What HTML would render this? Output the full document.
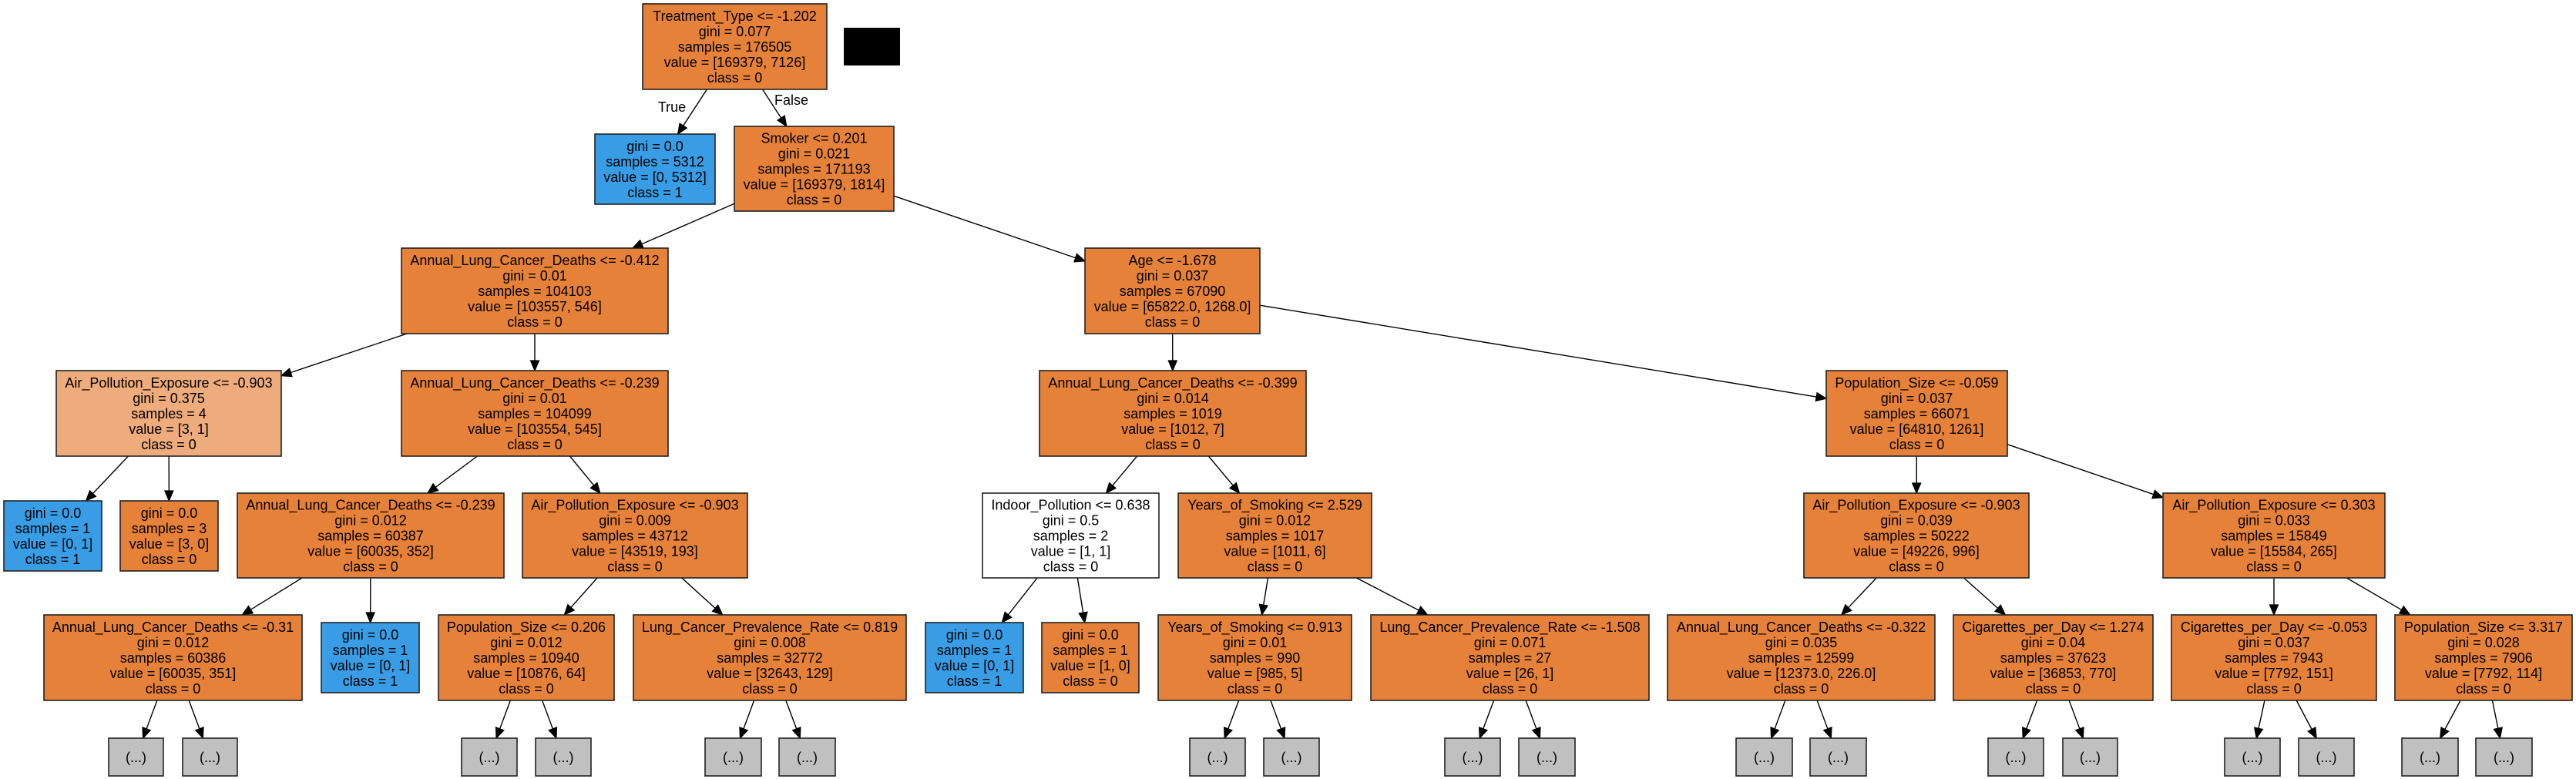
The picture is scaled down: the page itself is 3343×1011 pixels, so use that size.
<!DOCTYPE html>
<html><head><meta charset="utf-8">
<style>
html,body{margin:0;padding:0;background:#fff;}
svg{display:block;}
text{font-family:"Liberation Sans",Arial,sans-serif;font-size:18px;fill:#000;}
</style></head>
<body>
<svg id="s" width="3343" height="1011" viewBox="0 0 3343 1011" xmlns="http://www.w3.org/2000/svg">
<rect x="1095" y="36" width="73" height="49" fill="#000"/>
<text x="872" y="145" text-anchor="middle">True</text>
<text x="1027" y="136" text-anchor="middle">False</text>
</svg>
<script>
var O="#e58139",B="#399de5",L="#eeab7b",W="#ffffff",G="#c0c0c0";
var N=[
[834,5,1073,116,O,["Treatment_Type <= -1.202","gini = 0.077","samples = 176505","value = [169379, 7126]","class = 0"]],
[772,174,928,265,B,["gini = 0.0","samples = 5312","value = [0, 5312]","class = 1"]],
[953,164,1160,274,O,["Smoker <= 0.201","gini = 0.021","samples = 171193","value = [169379, 1814]","class = 0"]],
[521,322,867,433,O,["Annual_Lung_Cancer_Deaths <= -0.412","gini = 0.01","samples = 104103","value = [103557, 546]","class = 0"]],
[1408,322,1635,433,O,["Age <= -1.678","gini = 0.037","samples = 67090","value = [65822.0, 1268.0]","class = 0"]],
[73,481,365,592,L,["Air_Pollution_Exposure <= -0.903","gini = 0.375","samples = 4","value = [3, 1]","class = 0"]],
[521,481,867,592,O,["Annual_Lung_Cancer_Deaths <= -0.239","gini = 0.01","samples = 104099","value = [103554, 545]","class = 0"]],
[1349,481,1695,592,O,["Annual_Lung_Cancer_Deaths <= -0.399","gini = 0.014","samples = 1019","value = [1012, 7]","class = 0"]],
[2370,481,2605,592,O,["Population_Size <= -0.059","gini = 0.037","samples = 66071","value = [64810, 1261]","class = 0"]],
[5,650,132,741,B,["gini = 0.0","samples = 1","value = [0, 1]","class = 1"]],
[156,650,283,741,O,["gini = 0.0","samples = 3","value = [3, 0]","class = 0"]],
[308,640,654,750,O,["Annual_Lung_Cancer_Deaths <= -0.239","gini = 0.012","samples = 60387","value = [60035, 352]","class = 0"]],
[678,640,970,750,O,["Air_Pollution_Exposure <= -0.903","gini = 0.009","samples = 43712","value = [43519, 193]","class = 0"]],
[1275,640,1504,750,W,["Indoor_Pollution <= 0.638","gini = 0.5","samples = 2","value = [1, 1]","class = 0"]],
[1529,640,1780,750,O,["Years_of_Smoking <= 2.529","gini = 0.012","samples = 1017","value = [1011, 6]","class = 0"]],
[2341,640,2633,750,O,["Air_Pollution_Exposure <= -0.903","gini = 0.039","samples = 50222","value = [49226, 996]","class = 0"]],
[2807,640,3095,750,O,["Air_Pollution_Exposure <= 0.303","gini = 0.033","samples = 15849","value = [15584, 265]","class = 0"]],
[57,798,392,909,O,["Annual_Lung_Cancer_Deaths <= -0.31","gini = 0.012","samples = 60386","value = [60035, 351]","class = 0"]],
[417,808,544,899,B,["gini = 0.0","samples = 1","value = [0, 1]","class = 1"]],
[569,798,797,909,O,["Population_Size <= 0.206","gini = 0.012","samples = 10940","value = [10876, 64]","class = 0"]],
[822,798,1176,909,O,["Lung_Cancer_Prevalence_Rate <= 0.819","gini = 0.008","samples = 32772","value = [32643, 129]","class = 0"]],
[1201,808,1328,899,B,["gini = 0.0","samples = 1","value = [0, 1]","class = 1"]],
[1352,808,1478,899,O,["gini = 0.0","samples = 1","value = [1, 0]","class = 0"]],
[1503,798,1754,909,O,["Years_of_Smoking <= 0.913","gini = 0.01","samples = 990","value = [985, 5]","class = 0"]],
[1779,798,2140,909,O,["Lung_Cancer_Prevalence_Rate <= -1.508","gini = 0.071","samples = 27","value = [26, 1]","class = 0"]],
[2164,798,2511,909,O,["Annual_Lung_Cancer_Deaths <= -0.322","gini = 0.035","samples = 12599","value = [12373.0, 226.0]","class = 0"]],
[2535,798,2794,909,O,["Cigarettes_per_Day <= 1.274","gini = 0.04","samples = 37623","value = [36853, 770]","class = 0"]],
[2818,798,3084,909,O,["Cigarettes_per_Day <= -0.053","gini = 0.037","samples = 7943","value = [7792, 151]","class = 0"]],
[3108,798,3338,909,O,["Population_Size <= 3.317","gini = 0.028","samples = 7906","value = [7792, 114]","class = 0"]]
];
var E=[[0,1],[0,2],[2,3],[2,4],[3,5],[3,6],[4,7],[4,8],[5,9],[5,10],[6,11],[6,12],[7,13],[7,14],[8,15],[8,16],[11,17],[11,18],[12,19],[12,20],[13,21],[13,22],[14,23],[14,24],[15,25],[15,26],[16,27],[16,28]];
var gp={17:[141,212,237,308],19:[599,671,695,767],20:[915,988,1011,1084],23:[1544,1616,1640,1712],24:[1875,1947,1971,2044],25:[2253,2326,2349,2422],26:[2580,2652,2677,2748],27:[2887,2959,2983,3055],28:[3117,3190,3213,3286]};
for(var k in gp){var g=gp[k];
 N.push([g[0],958,g[1],1007,G,["(...)"]]);E.push([+k,N.length-1]);
 N.push([g[2],958,g[3],1007,G,["(...)"]]);E.push([+k,N.length-1]);}
var s=document.getElementById('s'),ns="http://www.w3.org/2000/svg",h="";
function clip(n,cx,cy,dx,dy){ // from center towards direction, find boundary t
 var hw=(n[2]-n[0])/2,hh=(n[3]-n[1])/2,t=1e9;
 if(dx!=0)t=Math.min(t,hw/Math.abs(dx));
 if(dy!=0)t=Math.min(t,hh/Math.abs(dy));
 return t;}
E.forEach(function(e){
 var a=N[e[0]],b=N[e[1]];
 var ax=(a[0]+a[2])/2,ay=(a[1]+a[3])/2,bx=(b[0]+b[2])/2,by=(b[1]+b[3])/2;
 var dx=bx-ax,dy=by-ay;
 var t1=clip(a,ax,ay,dx,dy),t2=clip(b,bx,by,-dx,-dy);
 var x1=ax+dx*t1,y1=ay+dy*t1,x2=bx-dx*t2,y2=by-dy*t2;
 var len=Math.hypot(dx,dy),ux=dx/len,uy=dy/len,al=13,aw=5.5;
 var bxp=x2-ux*al,byp=y2-uy*al;
 h+='<line x1="'+x1+'" y1="'+y1+'" x2="'+bxp+'" y2="'+byp+'" stroke="#000" stroke-width="1.4"/>';
 h+='<polygon points="'+x2+','+y2+' '+(bxp-uy*aw)+','+(byp+ux*aw)+' '+(bxp+uy*aw)+','+(byp-ux*aw)+'" fill="#000" stroke="#000" stroke-width="1.2"/>';
});
N.forEach(function(n){
 h+='<rect x="'+n[0]+'" y="'+n[1]+'" width="'+(n[2]-n[0])+'" height="'+(n[3]-n[1])+'" fill="'+n[4]+'" stroke="#222" stroke-width="1.6"/>';
 var cx=(n[0]+n[2])/2,cy=(n[1]+n[3])/2,L=n[5].length;
 n[5].forEach(function(t,i){
  var y=cy+(i-(L-1)/2)*20+6.5;
  h+='<text x="'+cx+'" y="'+y+'" text-anchor="middle">'+t.replace(/</g,'&lt;')+'</text>';
 });
});
s.insertAdjacentHTML('beforeend',h);
</script>
</body></html>
